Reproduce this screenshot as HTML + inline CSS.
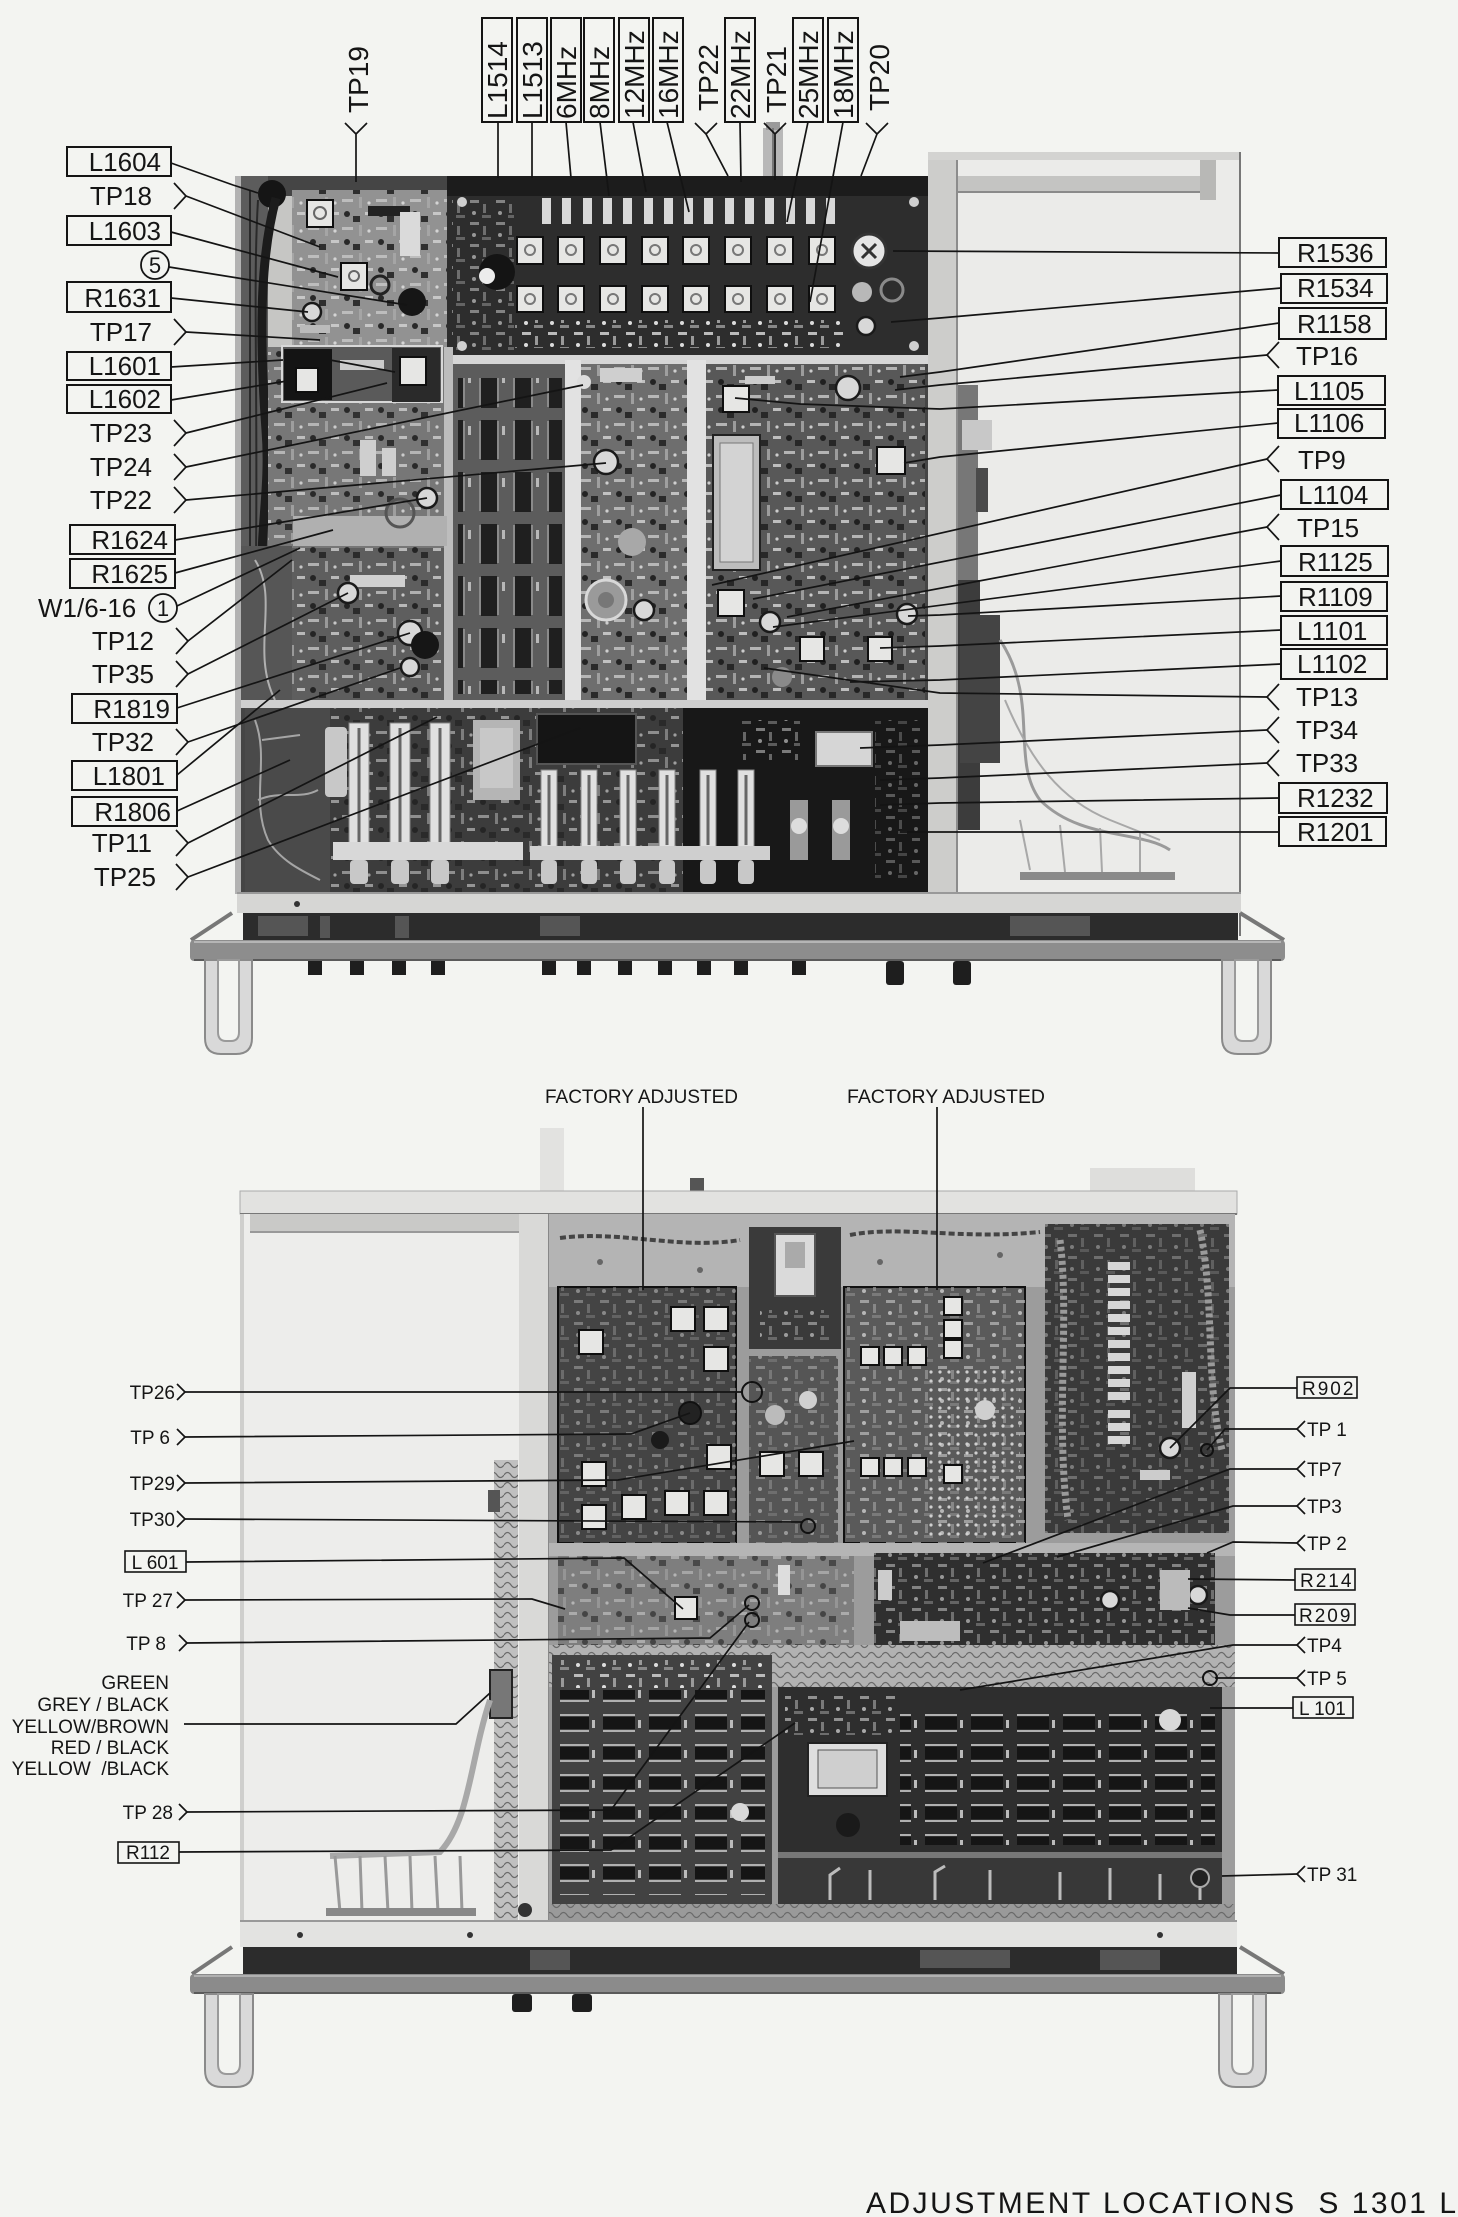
<!DOCTYPE html>
<html><head><meta charset="utf-8"><title>Adjustment Locations S 1301 L</title>
<style>
html,body{margin:0;padding:0;background:#f3f4f1;}
svg{display:block;}
text{font-family:"Liberation Sans",Arial,sans-serif;fill:#151515;}
.t26{font-size:26px;}
.t28{font-size:28px;}
.t19{font-size:19px;}
.ln{stroke:#141414;stroke-width:1.7;fill:none;}
.bx{stroke:#141414;stroke-width:2;fill:none;}
.bx2{stroke:#141414;stroke-width:1.6;fill:none;}
.sq{fill:#e6e6e4;stroke:#0f0f0f;stroke-width:2;}
.rg{fill:#d8d8d8;stroke:#1a1a1a;stroke-width:2.5;}
</style></head><body>
<svg xmlns="http://www.w3.org/2000/svg" width="1458" height="2217" viewBox="0 0 1458 2217">
<defs>
<pattern id="pA" width="34" height="28" patternUnits="userSpaceOnUse">
<rect x="2" y="3" width="11" height="3" fill="#c4c4c4"/>
<rect x="19" y="1" width="3" height="11" fill="#a8a8a8"/>
<rect x="25" y="16" width="8" height="3" fill="#d0d0d0"/>
<circle cx="7" cy="18" r="3" fill="#161616"/>
<rect x="13" y="20" width="7" height="6" fill="#1e1e1e"/>
<circle cx="29" cy="7" r="1.6" fill="#e0e0e0"/>
</pattern>
<pattern id="pB" width="26" height="22" patternUnits="userSpaceOnUse">
<rect x="2" y="2" width="9" height="3" fill="#bbbbbb"/>
<rect x="15" y="6" width="3" height="9" fill="#9a9a9a"/>
<circle cx="6" cy="15" r="2" fill="#dddddd"/>
<rect x="14" y="17" width="9" height="3" fill="#888888"/>
</pattern>
<pattern id="pIC" width="34" height="52" patternUnits="userSpaceOnUse">
<rect x="5" y="4" width="16" height="40" fill="#1f1f1f"/>
<rect x="3" y="5" width="2" height="38" fill="#8a8a8a"/>
<rect x="21" y="5" width="2" height="38" fill="#8a8a8a"/>
<rect x="26" y="10" width="3" height="9" fill="#b8b8b8"/>
</pattern>
<pattern id="pICr" width="46" height="30" patternUnits="userSpaceOnUse">
<rect x="5" y="7" width="32" height="12" fill="#151515"/>
<rect x="5" y="4" width="32" height="2" fill="#b0b0b0"/>
<rect x="5" y="20" width="32" height="2" fill="#b0b0b0"/>
<rect x="40" y="10" width="3" height="8" fill="#bbbbbb"/>
</pattern>
<pattern id="pW" width="14" height="10" patternUnits="userSpaceOnUse">
<path d="M0,5 Q3.5,0 7,5 T14,5" stroke="#6a6a6a" stroke-width="1.2" fill="none"/>
</pattern>
<pattern id="pDot" width="9" height="9" patternUnits="userSpaceOnUse">
<circle cx="4" cy="4" r="1.6" fill="#cfcfcf"/>
</pattern>
</defs>
<rect width="1458" height="2217" fill="#f3f4f1"/>

<!-- ================= TOP DIAGRAM ================= -->
<rect x="928" y="152" width="313" height="742" fill="#ebebe9"/>
<rect x="928" y="152" width="313" height="8" fill="#d3d3d1"/>
<rect x="958" y="176" width="258" height="16" fill="#c4c4c2"/>
<line x1="958" y1="192" x2="1216" y2="192" stroke="#8a8a8a" stroke-width="2"/>
<rect x="1200" y="160" width="16" height="40" fill="#b8b8b6"/>
<line x1="1240" y1="152" x2="1240" y2="936" stroke="#777" stroke-width="2"/>
<rect x="928" y="160" width="30" height="735" fill="#cdcdcb"/>
<line x1="957" y1="160" x2="957" y2="894" stroke="#8c8c8c" stroke-width="2"/>
<rect x="958" y="385" width="20" height="230" fill="#777"/>
<rect x="958" y="580" width="22" height="250" fill="#3c3c3c"/>
<rect x="960" y="615" width="40" height="148" fill="#444"/>
<rect x="976" y="468" width="12" height="44" fill="#4a4a4a"/>
<rect x="962" y="420" width="30" height="30" fill="#c8c8c8"/>
<path d="M1000,640 C1040,700 1010,760 1040,800 C1080,840 1140,830 1170,850" stroke="#9a9a9a" stroke-width="3" fill="none"/>
<path d="M1005,700 C1030,760 1060,800 1110,820 L1160,840 M1020,820 L1030,870 M1060,825 L1065,872 M1100,828 L1102,872 M1140,832 L1140,872" stroke="#a8a8a8" stroke-width="2" fill="none"/>
<rect x="1020" y="872" width="155" height="8" fill="#8a8a8a"/>
<rect x="763" y="128" width="20" height="48" fill="#b8b8b8"/>
<rect x="766" y="122" width="14" height="8" fill="#9a9a9a"/>
<line x1="773" y1="128" x2="773" y2="176" stroke="#777" stroke-width="2"/>

<rect x="235" y="176" width="693" height="718" fill="#454545"/>
<rect x="235" y="176" width="6" height="718" fill="#b2b2b2"/>
<rect x="241" y="176" width="27" height="532" fill="#5c5c5c"/>
<rect x="268" y="196" width="24" height="350" fill="#c6c6c4"/>
<circle cx="272" cy="194" r="14" fill="#151515"/>
<path d="M276,198 C262,250 258,320 266,430 C270,480 262,520 262,560" stroke="#1c1c1c" stroke-width="9" fill="none"/>
<path d="M250,190 L250,700 M258,200 C252,300 260,400 254,700" stroke="#2a2a2a" stroke-width="2" fill="none"/>

<rect x="292" y="190" width="155" height="158" fill="#929292"/>
<rect x="292" y="190" width="155" height="158" fill="url(#pA)" opacity="0.85"/>
<rect x="368" y="206" width="42" height="10" fill="#222"/>
<rect x="400" y="212" width="20" height="44" fill="#dadada"/>
<rect x="307" y="200" width="26" height="27" class="sq"/>
<circle cx="320" cy="213" r="6" fill="none" stroke="#666" stroke-width="2"/>
<rect x="341" y="263" width="26" height="27" class="sq"/>
<circle cx="354" cy="276" r="5" fill="none" stroke="#666" stroke-width="2"/>
<circle cx="412" cy="302" r="14" fill="#161616"/>
<circle cx="380" cy="285" r="9" fill="none" stroke="#222" stroke-width="3"/>
<circle cx="312" cy="312" r="9" class="rg"/>
<rect x="300" y="325" width="30" height="8" fill="#bbb"/>

<rect x="447" y="176" width="481" height="180" fill="#2d2d2d"/>
<rect x="447" y="176" width="481" height="20" fill="#1c1c1c"/>
<g fill="#d8d8d8">
<rect x="542" y="198" width="9" height="26"/><rect x="562" y="198" width="9" height="26"/><rect x="583" y="198" width="9" height="26"/><rect x="603" y="198" width="9" height="26"/><rect x="623" y="198" width="9" height="26"/><rect x="644" y="198" width="9" height="26"/><rect x="664" y="198" width="9" height="26"/><rect x="684" y="198" width="9" height="26"/><rect x="704" y="198" width="9" height="26"/><rect x="725" y="198" width="9" height="26"/><rect x="745" y="198" width="9" height="26"/><rect x="765" y="198" width="9" height="26"/><rect x="786" y="198" width="9" height="26"/><rect x="806" y="198" width="9" height="26"/><rect x="826" y="198" width="9" height="26"/>
</g>
<g>
<rect x="517" y="237" width="26" height="27" class="sq"/><rect x="558" y="237" width="26" height="27" class="sq"/><rect x="600" y="237" width="26" height="27" class="sq"/><rect x="642" y="237" width="26" height="27" class="sq"/><rect x="683" y="237" width="26" height="27" class="sq"/><rect x="725" y="237" width="26" height="27" class="sq"/><rect x="767" y="237" width="26" height="27" class="sq"/><rect x="809" y="237" width="26" height="27" class="sq"/>
<rect x="517" y="286" width="26" height="26" class="sq"/><rect x="558" y="286" width="26" height="26" class="sq"/><rect x="600" y="286" width="26" height="26" class="sq"/><rect x="642" y="286" width="26" height="26" class="sq"/><rect x="683" y="286" width="26" height="26" class="sq"/><rect x="725" y="286" width="26" height="26" class="sq"/><rect x="767" y="286" width="26" height="26" class="sq"/><rect x="809" y="286" width="26" height="26" class="sq"/>
</g>
<g fill="none" stroke="#777" stroke-width="2">
<circle cx="530" cy="250" r="5"/><circle cx="571" cy="250" r="5"/><circle cx="613" cy="250" r="5"/><circle cx="655" cy="250" r="5"/><circle cx="696" cy="250" r="5"/><circle cx="738" cy="250" r="5"/><circle cx="780" cy="250" r="5"/><circle cx="822" cy="250" r="5"/>
<circle cx="530" cy="299" r="5"/><circle cx="571" cy="299" r="5"/><circle cx="613" cy="299" r="5"/><circle cx="655" cy="299" r="5"/><circle cx="696" cy="299" r="5"/><circle cx="738" cy="299" r="5"/><circle cx="780" cy="299" r="5"/><circle cx="822" cy="299" r="5"/>
</g>
<rect x="515" y="320" width="330" height="28" fill="url(#pB)"/>
<rect x="452" y="200" width="62" height="150" fill="url(#pB)" opacity="0.6"/>
<circle cx="497" cy="272" r="18" fill="#141414"/>
<circle cx="487" cy="276" r="8" fill="#ececec"/>
<circle cx="869" cy="251" r="17" fill="#e5e5e5" stroke="#333" stroke-width="3"/>
<path d="M862,244 L876,258 M876,244 L862,258" stroke="#333" stroke-width="3"/>
<circle cx="862" cy="292" r="10" fill="#b8b8b8"/>
<circle cx="892" cy="290" r="11" fill="none" stroke="#8a8a8a" stroke-width="3"/>
<circle cx="866" cy="326" r="9" class="rg"/>
<g fill="#cfcfcf"><circle cx="462" cy="202" r="5"/><circle cx="914" cy="202" r="5"/><circle cx="462" cy="346" r="5"/><circle cx="914" cy="346" r="5"/></g>

<rect x="447" y="355" width="481" height="9" fill="#d6d6d6"/>
<rect x="444" y="347" width="9" height="355" fill="#bdbdbd"/>

<rect x="268" y="347" width="176" height="201" fill="#777"/>
<rect x="268" y="347" width="176" height="201" fill="url(#pA)" opacity="0.8"/>
<rect x="282" y="346" width="160" height="56" fill="#5a5a5a" stroke="#d8d8d8" stroke-width="2"/>
<rect x="284" y="349" width="48" height="51" fill="#141414"/>
<rect x="296" y="368" width="22" height="24" class="sq"/>
<rect x="340" y="360" width="44" height="10" fill="#ccc"/>
<rect x="392" y="348" width="48" height="54" fill="#2a2a2a"/>
<rect x="400" y="357" width="26" height="28" class="sq"/>
<rect x="293" y="516" width="154" height="30" fill="#b0b0b0"/>
<rect x="360" y="440" width="16" height="36" fill="#cfcfcf"/>
<rect x="382" y="448" width="14" height="28" fill="#cfcfcf"/>
<circle cx="427" cy="498" r="10" class="rg"/>
<circle cx="400" cy="513" r="14" fill="none" stroke="#555" stroke-width="3"/>
<rect x="241" y="546" width="51" height="162" fill="#565656"/>
<path d="M255,560 C280,600 250,650 275,700" stroke="#b0b0b0" stroke-width="2" fill="none"/>
<rect x="292" y="548" width="152" height="152" fill="#5e5e5e"/>
<rect x="292" y="548" width="152" height="152" fill="url(#pA)" opacity="0.8"/>
<rect x="350" y="575" width="55" height="12" fill="#d0d0d0"/>
<circle cx="348" cy="593" r="10" class="rg"/>
<circle cx="410" cy="633" r="12" class="rg"/>
<circle cx="410" cy="667" r="9" class="rg"/>
<circle cx="425" cy="645" r="14" fill="#161616"/>

<rect x="453" y="364" width="112" height="336" fill="#5c5c5c"/>
<rect x="458" y="378" width="104" height="316" fill="url(#pIC)"/>
<rect x="565" y="360" width="16" height="342" fill="#e2e2e2"/>
<rect x="581" y="364" width="106" height="336" fill="#6e6e6e"/>
<rect x="581" y="364" width="106" height="336" fill="url(#pA)" opacity="0.85"/>
<rect x="600" y="368" width="42" height="14" fill="#cfcfcf"/>
<circle cx="606" cy="462" r="12" class="rg"/>
<circle cx="632" cy="542" r="14" fill="#a8a8a8"/>
<circle cx="606" cy="600" r="20" fill="#9a9a9a" stroke="#d8d8d8" stroke-width="3"/>
<circle cx="606" cy="600" r="8" fill="#777"/>
<circle cx="644" cy="610" r="10" class="rg"/>
<circle cx="584" cy="382" r="7" fill="#ddd"/>
<rect x="687" y="360" width="19" height="342" fill="#e2e2e2"/>
<rect x="706" y="364" width="219" height="336" fill="#585858"/>
<rect x="706" y="364" width="219" height="336" fill="url(#pA)" opacity="0.85"/>
<rect x="713" y="435" width="47" height="135" fill="#bdbdbd" stroke="#222" stroke-width="2"/>
<rect x="720" y="443" width="33" height="119" fill="#d3d3d3" stroke="#777" stroke-width="1"/>
<rect x="723" y="386" width="26" height="26" class="sq"/>
<rect x="877" y="447" width="28" height="27" class="sq"/>
<rect x="718" y="590" width="26" height="26" class="sq"/>
<rect x="800" y="637" width="24" height="24" class="sq"/>
<rect x="868" y="637" width="24" height="24" class="sq"/>
<circle cx="848" cy="388" r="12" class="rg"/>
<circle cx="770" cy="622" r="10" class="rg"/>
<circle cx="907" cy="614" r="10" class="rg"/>
<circle cx="782" cy="677" r="10" fill="#8a8a8a"/>
<rect x="745" y="376" width="30" height="8" fill="#ccc"/>

<rect x="241" y="700" width="687" height="8" fill="#cfcfcf"/>

<rect x="245" y="708" width="438" height="185" fill="#3c3c3c"/>
<rect x="245" y="708" width="438" height="185" fill="url(#pA)" opacity="0.6"/>
<rect x="683" y="708" width="245" height="185" fill="#181818"/>
<rect x="537" y="714" width="99" height="50" fill="#151515" stroke="#555" stroke-width="2"/>
<rect x="245" y="708" width="85" height="185" fill="#4a4a4a"/>
<path d="M255,720 C270,760 250,800 268,840 C280,860 300,870 320,880 M262,740 L300,735 M258,800 C280,790 300,800 318,790" stroke="#a5a5a5" stroke-width="2" fill="none"/>
<rect x="325" y="727" width="22" height="70" rx="4" fill="#c8c8c8"/>
<rect x="473" y="720" width="47" height="80" fill="#b5b5b5"/>
<rect x="480" y="728" width="33" height="60" fill="#c8c8c8"/>
<g fill="#e0e0e0" stroke="#888" stroke-width="1">
<rect x="349" y="723" width="20" height="125"/><rect x="390" y="723" width="20" height="125"/><rect x="430" y="723" width="20" height="125"/>
<rect x="541" y="770" width="16" height="80"/><rect x="581" y="770" width="16" height="80"/><rect x="620" y="770" width="16" height="80"/><rect x="659" y="770" width="16" height="80"/><rect x="700" y="770" width="16" height="80"/><rect x="738" y="770" width="16" height="80"/>
</g>
<g stroke="#666" stroke-width="3">
<line x1="359" y1="728" x2="359" y2="842"/><line x1="400" y1="728" x2="400" y2="842"/><line x1="440" y1="728" x2="440" y2="842"/>
<line x1="549" y1="775" x2="549" y2="845"/><line x1="589" y1="775" x2="589" y2="845"/><line x1="628" y1="775" x2="628" y2="845"/><line x1="667" y1="775" x2="667" y2="845"/><line x1="708" y1="775" x2="708" y2="845"/><line x1="746" y1="775" x2="746" y2="845"/>
</g>
<rect x="333" y="842" width="190" height="18" fill="#d8d8d8"/>
<rect x="530" y="846" width="240" height="14" fill="#cfcfcf"/>
<g fill="#c8c8c8">
<rect x="350" y="860" width="18" height="24" rx="4"/><rect x="391" y="860" width="18" height="24" rx="4"/><rect x="431" y="860" width="18" height="24" rx="4"/>
<rect x="541" y="860" width="16" height="24" rx="4"/><rect x="581" y="860" width="16" height="24" rx="4"/><rect x="620" y="860" width="16" height="24" rx="4"/><rect x="659" y="860" width="16" height="24" rx="4"/><rect x="700" y="860" width="16" height="24" rx="4"/><rect x="738" y="860" width="16" height="24" rx="4"/>
</g>
<rect x="790" y="800" width="18" height="60" fill="#9a9a9a"/>
<rect x="832" y="800" width="18" height="60" fill="#9a9a9a"/>
<circle cx="799" cy="826" r="8" fill="#ddd"/>
<circle cx="841" cy="826" r="8" fill="#ddd"/>
<rect x="816" y="732" width="56" height="34" fill="#d6d6d6" stroke="#777" stroke-width="2"/>
<rect x="740" y="720" width="60" height="40" fill="url(#pB)" opacity="0.6"/>
<rect x="875" y="720" width="45" height="160" fill="url(#pB)" opacity="0.4"/>

<rect x="237" y="893" width="1004" height="20" fill="#d6d6d4"/>
<line x1="237" y1="893" x2="1241" y2="893" stroke="#999" stroke-width="2"/>
<circle cx="297" cy="904" r="3" fill="#333"/>
<rect x="243" y="913" width="995" height="27" fill="#2c2c2c"/>
<g fill="#555"><rect x="258" y="916" width="50" height="20"/><rect x="320" y="916" width="10" height="22"/><rect x="395" y="916" width="14" height="22"/><rect x="540" y="916" width="40" height="20"/><rect x="1010" y="916" width="80" height="20"/></g>
<path d="M191,940 L232,913 M1284,940 L1240,913" stroke="#777" stroke-width="4"/>
<rect x="190" y="940" width="1095" height="21" rx="4" fill="#8d8d8d"/>
<line x1="194" y1="942" x2="1281" y2="942" stroke="#b5b5b5" stroke-width="2"/>
<line x1="194" y1="960" x2="1281" y2="960" stroke="#5a5a5a" stroke-width="2"/>
<g fill="#1e1e1e">
<rect x="308" y="961" width="14" height="14"/><rect x="350" y="961" width="14" height="14"/><rect x="392" y="961" width="14" height="14"/><rect x="431" y="961" width="14" height="14"/><rect x="542" y="961" width="14" height="14"/><rect x="577" y="961" width="14" height="14"/><rect x="618" y="961" width="14" height="14"/><rect x="658" y="961" width="14" height="14"/><rect x="697" y="961" width="14" height="14"/><rect x="734" y="961" width="14" height="14"/><rect x="792" y="961" width="14" height="14"/><rect x="886" y="961" width="18" height="24" rx="3"/><rect x="953" y="961" width="18" height="24" rx="3"/>
</g>
<path d="M205,960 L205,1038 Q205,1054 221,1054 L236,1054 Q252,1054 252,1038 L252,960 Z" fill="#d9d9d9" stroke="#8a8a8a" stroke-width="2"/>
<path d="M218,960 L218,1032 Q218,1041 226,1041 L231,1041 Q239,1041 239,1032 L239,960 Z" fill="#f3f4f1" stroke="#9a9a9a" stroke-width="2"/>
<path d="M1222,960 L1222,1038 Q1222,1054 1238,1054 L1255,1054 Q1271,1054 1271,1038 L1271,960 Z" fill="#d9d9d9" stroke="#8a8a8a" stroke-width="2"/>
<path d="M1235,960 L1235,1032 Q1235,1041 1243,1041 L1250,1041 Q1258,1041 1258,1032 L1258,960 Z" fill="#f3f4f1" stroke="#9a9a9a" stroke-width="2"/>

<g class="t28">
<rect x="482" y="18" width="30" height="104" class="bx"/><text transform="translate(507,119) rotate(-90)">L1514</text>
<rect x="517" y="18" width="30" height="104" class="bx"/><text transform="translate(542,119) rotate(-90)">L1513</text>
<rect x="551" y="18" width="30" height="104" class="bx"/><text transform="translate(576,119) rotate(-90)">6MHz</text>
<rect x="584" y="18" width="30" height="104" class="bx"/><text transform="translate(609,119) rotate(-90)">8MHz</text>
<rect x="619" y="18" width="30" height="104" class="bx"/><text transform="translate(644,119) rotate(-90)">12MHz</text>
<rect x="653" y="18" width="30" height="104" class="bx"/><text transform="translate(678,119) rotate(-90)">16MHz</text>
<rect x="725" y="18" width="30" height="104" class="bx"/><text transform="translate(750,119) rotate(-90)">22MHz</text>
<rect x="793" y="18" width="30" height="104" class="bx"/><text transform="translate(818,119) rotate(-90)">25MHz</text>
<rect x="828" y="18" width="30" height="104" class="bx"/><text transform="translate(853,119) rotate(-90)">18MHz</text>
<text transform="translate(368,113) rotate(-90)">TP19</text>
<text transform="translate(718,111) rotate(-90)">TP22</text>
<text transform="translate(786,113) rotate(-90)">TP21</text>
<text transform="translate(889,111) rotate(-90)">TP20</text>
</g>
<g class="ln">
<path d="M345,123 L356,134 L367,123 M356,134 L356,182"/>
<path d="M695,123 L706,134 L717,123 M706,134 L728,176"/>
<path d="M764,123 L775,134 L786,123 M775,134 L775,180"/>
<path d="M866,123 L877,134 L888,123 M877,134 L861,176"/>
<path d="M498,122 L498,178"/>
<path d="M532,122 L532,178"/>
<path d="M566,122 L571,178"/>
<path d="M600,122 L609,196"/>
<path d="M633,122 L646,192"/>
<path d="M667,122 L689,212"/>
<path d="M740,122 L741,182"/>
<path d="M808,122 L787,222"/>
<path d="M843,122 L810,302"/>
</g>

<g class="t26">
<rect x="67" y="147" width="104" height="29" class="bx"/><text x="161" y="171" text-anchor="end">L1604</text>
<text x="152" y="205" text-anchor="end">TP18</text>
<rect x="67" y="216" width="104" height="29" class="bx"/><text x="161" y="240" text-anchor="end">L1603</text>
<rect x="67" y="282" width="104" height="30" class="bx"/><text x="161" y="307" text-anchor="end">R1631</text>
<text x="152" y="341" text-anchor="end">TP17</text>
<rect x="67" y="352" width="104" height="28" class="bx"/><text x="161" y="375" text-anchor="end">L1601</text>
<rect x="67" y="385" width="104" height="28" class="bx"/><text x="161" y="408" text-anchor="end">L1602</text>
<text x="152" y="442" text-anchor="end">TP23</text>
<text x="152" y="476" text-anchor="end">TP24</text>
<text x="152" y="509" text-anchor="end">TP22</text>
<rect x="70" y="525" width="105" height="29" class="bx"/><text x="168" y="549" text-anchor="end">R1624</text>
<rect x="70" y="559" width="105" height="29" class="bx"/><text x="168" y="583" text-anchor="end">R1625</text>
<text x="38" y="617">W1/6-16</text>
<text x="154" y="650" text-anchor="end">TP12</text>
<text x="154" y="683" text-anchor="end">TP35</text>
<rect x="72" y="694" width="105" height="29" class="bx"/><text x="170" y="718" text-anchor="end">R1819</text>
<text x="154" y="751" text-anchor="end">TP32</text>
<rect x="72" y="761" width="105" height="29" class="bx"/><text x="165" y="785" text-anchor="end">L1801</text>
<rect x="72" y="797" width="105" height="29" class="bx"/><text x="171" y="821" text-anchor="end">R1806</text>
<text x="152" y="852" text-anchor="end">TP11</text>
<text x="156" y="886" text-anchor="end">TP25</text>
</g>
<circle cx="155" cy="265" r="14" fill="none" stroke="#141414" stroke-width="1.8"/>
<text x="155" y="273" text-anchor="middle" style="font-size:22px">5</text>
<circle cx="163" cy="608" r="14" fill="none" stroke="#141414" stroke-width="1.8"/>
<text x="163" y="616" text-anchor="middle" style="font-size:22px">1</text>
<g class="ln">
<path d="M174,183 L186,196 L174,209"/>
<path d="M174,319 L186,332 L174,345"/>
<path d="M174,420 L186,433 L174,446"/>
<path d="M174,454 L186,467 L174,480"/>
<path d="M174,487 L186,500 L174,513"/>
<path d="M176,628 L188,641 L176,654"/>
<path d="M176,661 L188,674 L176,687"/>
<path d="M176,729 L188,742 L176,755"/>
<path d="M176,830 L188,843 L176,856"/>
<path d="M176,864 L188,877 L176,890"/>
<path d="M171,163 L233,185 L258,193"/>
<path d="M186,196 L320,247"/>
<path d="M171,232 L338,277"/>
<path d="M169,267 L407,305"/>
<path d="M171,298 L308,312"/>
<path d="M186,332 L320,340"/>
<path d="M171,367 L283,360 M330,360 L395,372"/>
<path d="M171,400 L287,381"/>
<path d="M186,433 L387,383"/>
<path d="M186,467 L583,385"/>
<path d="M186,500 L606,463"/>
<path d="M175,540 L427,498"/>
<path d="M175,573 L333,530"/>
<path d="M177,606 L300,548"/>
<path d="M188,641 L292,560"/>
<path d="M188,674 L348,593"/>
<path d="M177,708 L410,633"/>
<path d="M188,742 L400,668"/>
<path d="M177,775 L280,690"/>
<path d="M177,811 L290,760"/>
<path d="M188,843 L437,717"/>
<path d="M188,877 L580,728"/>
</g>

<g class="t26">
<rect x="1279" y="238" width="107" height="29" class="bx"/><text x="1297" y="262">R1536</text>
<rect x="1281" y="274" width="106" height="29" class="bx"/><text x="1297" y="297">R1534</text>
<rect x="1279" y="308" width="107" height="31" class="bx"/><text x="1297" y="333">R1158</text>
<text x="1296" y="365">TP16</text>
<rect x="1278" y="376" width="107" height="29" class="bx"/><text x="1294" y="400">L1105</text>
<rect x="1278" y="409" width="107" height="29" class="bx"/><text x="1294" y="432">L1106</text>
<text x="1298" y="469">TP9</text>
<rect x="1281" y="480" width="107" height="29" class="bx"/><text x="1298" y="504">L1104</text>
<text x="1297" y="537">TP15</text>
<rect x="1281" y="546" width="107" height="30" class="bx"/><text x="1298" y="571">R1125</text>
<rect x="1281" y="582" width="106" height="29" class="bx"/><text x="1298" y="606">R1109</text>
<rect x="1281" y="616" width="106" height="29" class="bx"/><text x="1297" y="640">L1101</text>
<rect x="1281" y="649" width="106" height="30" class="bx"/><text x="1297" y="673">L1102</text>
<text x="1296" y="706">TP13</text>
<text x="1296" y="739">TP34</text>
<text x="1296" y="772">TP33</text>
<rect x="1279" y="783" width="108" height="30" class="bx"/><text x="1297" y="807">R1232</text>
<rect x="1279" y="817" width="107" height="29" class="bx"/><text x="1297" y="841">R1201</text>
</g>
<g class="ln">
<path d="M1279,342 L1267,355 L1279,368"/>
<path d="M1279,446 L1267,459 L1279,472"/>
<path d="M1279,514 L1267,527 L1279,540"/>
<path d="M1279,684 L1267,697 L1279,710"/>
<path d="M1279,717 L1267,730 L1279,743"/>
<path d="M1279,750 L1267,763 L1279,776"/>
<path d="M1279,253 L893,251"/>
<path d="M1281,288 L940,318 L891,322"/>
<path d="M1279,323 L940,372 L900,377"/>
<path d="M1267,355 L940,385 L895,390"/>
<path d="M1278,390 L940,409 L800,404 L735,398"/>
<path d="M1278,423 L940,457 L904,463"/>
<path d="M1267,459 L712,585"/>
<path d="M1281,495 L753,599"/>
<path d="M1267,527 L787,617"/>
<path d="M1281,561 L773,627"/>
<path d="M1281,596 L940,615 L908,616"/>
<path d="M1281,630 L940,646 L880,648"/>
<path d="M1281,664 L940,680 L850,682"/>
<path d="M1267,697 L940,693 L764,668"/>
<path d="M1267,730 L940,745 L860,748"/>
<path d="M1267,763 L940,778 L880,780"/>
<path d="M1279,798 L940,803 L880,805"/>
<path d="M1279,832 L900,832"/>
</g>

<!-- ================= BOTTOM DIAGRAM ================= -->
<g class="t19">
<text x="545" y="1103" textLength="193" lengthAdjust="spacingAndGlyphs">FACTORY ADJUSTED</text>
<text x="847" y="1103" textLength="198" lengthAdjust="spacingAndGlyphs">FACTORY ADJUSTED</text>
</g>
<rect x="540" y="1128" width="24" height="63" fill="#e2e2e0"/>
<rect x="690" y="1178" width="14" height="13" fill="#555"/>
<rect x="1090" y="1168" width="105" height="23" fill="#dededc"/>
<rect x="240" y="1191" width="997" height="23" fill="#e2e2e0" stroke="#aaa" stroke-width="1"/>
<line x1="240" y1="1214" x2="1237" y2="1214" stroke="#777" stroke-width="2"/>
<rect x="240" y="1214" width="279" height="707" fill="#ededeb"/>
<rect x="250" y="1214" width="269" height="18" fill="#c9c9c7"/>
<line x1="250" y1="1232" x2="519" y2="1232" stroke="#999" stroke-width="2"/>
<rect x="240" y="1214" width="4" height="707" fill="#cfcfcd"/>
<rect x="519" y="1214" width="30" height="707" fill="#d9d9d7"/>
<line x1="549" y1="1214" x2="549" y2="1921" stroke="#888" stroke-width="2"/>
<rect x="494" y="1460" width="24" height="460" fill="#c0c0c0"/>
<rect x="494" y="1460" width="24" height="460" fill="url(#pW)"/>
<rect x="488" y="1490" width="12" height="22" fill="#555"/>
<rect x="490" y="1670" width="22" height="48" fill="#777" stroke="#222" stroke-width="2"/>
<path d="M490,1700 C470,1760 470,1820 440,1852 L330,1856" stroke="#a8a8a8" stroke-width="6" fill="none"/>
<path d="M335,1856 L340,1912 M360,1856 L362,1912 M385,1856 L388,1912 M410,1856 L412,1912 M435,1856 L438,1912 M460,1856 L462,1912" stroke="#999" stroke-width="3" fill="none"/>
<rect x="326" y="1908" width="150" height="8" fill="#888"/>
<circle cx="525" cy="1910" r="7" fill="#333"/>
<rect x="549" y="1214" width="686" height="707" fill="#9c9c9c"/>
<rect x="549" y="1214" width="686" height="73" fill="#b4b4b4"/>
<path d="M560,1238 C620,1230 680,1250 740,1240 M850,1235 C900,1225 960,1240 1040,1232" stroke="#444" stroke-width="4" stroke-dasharray="6 3" fill="none"/>
<g fill="#666"><circle cx="600" cy="1262" r="3"/><circle cx="700" cy="1270" r="3"/><circle cx="880" cy="1262" r="3"/><circle cx="1000" cy="1255" r="3"/></g>
<rect x="558" y="1287" width="178" height="256" fill="#444" stroke="#111" stroke-width="2"/>
<rect x="558" y="1287" width="178" height="256" fill="url(#pB)" opacity="0.45"/>
<g>
<rect x="579" y="1330" width="24" height="24" class="sq"/><rect x="671" y="1307" width="24" height="24" class="sq"/><rect x="704" y="1307" width="24" height="24" class="sq"/><rect x="704" y="1347" width="24" height="24" class="sq"/><rect x="707" y="1445" width="24" height="24" class="sq"/><rect x="582" y="1462" width="24" height="24" class="sq"/><rect x="582" y="1505" width="24" height="24" class="sq"/><rect x="622" y="1495" width="24" height="24" class="sq"/><rect x="665" y="1491" width="24" height="24" class="sq"/><rect x="704" y="1491" width="24" height="24" class="sq"/>
</g>
<circle cx="690" cy="1413" r="11" fill="#222" stroke="#111" stroke-width="2"/>
<circle cx="660" cy="1440" r="9" fill="#1a1a1a"/>
<rect x="749" y="1227" width="92" height="122" fill="#3a3a3a"/>
<rect x="775" y="1234" width="40" height="62" fill="#dadada" stroke="#555" stroke-width="2"/>
<rect x="785" y="1242" width="20" height="26" fill="#aaa"/>
<rect x="760" y="1310" width="70" height="30" fill="url(#pB)" opacity="0.6"/>
<rect x="749" y="1356" width="89" height="187" fill="#555"/>
<rect x="749" y="1356" width="89" height="187" fill="url(#pB)" opacity="0.5"/>
<rect x="760" y="1452" width="24" height="24" class="sq"/>
<rect x="799" y="1452" width="24" height="24" class="sq"/>
<circle cx="775" cy="1415" r="10" fill="#bbb"/>
<circle cx="808" cy="1400" r="9" fill="#d0d0d0"/>
<rect x="844" y="1287" width="181" height="256" fill="#5a5a5a" stroke="#111" stroke-width="2"/>
<rect x="844" y="1287" width="181" height="256" fill="url(#pB)" opacity="0.7"/>
<rect x="925" y="1370" width="95" height="170" fill="url(#pDot)"/>
<g>
<rect x="861" y="1347" width="18" height="18" class="sq"/><rect x="884" y="1347" width="18" height="18" class="sq"/><rect x="908" y="1347" width="18" height="18" class="sq"/><rect x="944" y="1297" width="18" height="18" class="sq"/><rect x="944" y="1320" width="18" height="18" class="sq"/><rect x="944" y="1340" width="18" height="18" class="sq"/><rect x="861" y="1458" width="18" height="18" class="sq"/><rect x="884" y="1458" width="18" height="18" class="sq"/><rect x="908" y="1458" width="18" height="18" class="sq"/><rect x="944" y="1465" width="18" height="18" class="sq"/>
</g>
<circle cx="985" cy="1410" r="10" fill="#cfcfcf"/>
<rect x="1045" y="1224" width="184" height="309" fill="#3a3a3a"/>
<rect x="1045" y="1224" width="184" height="309" fill="url(#pB)" opacity="0.4"/>
<path d="M1060,1240 C1070,1320 1055,1420 1068,1520 M1200,1230 C1215,1300 1205,1380 1222,1450" stroke="#9a9a9a" stroke-width="7" stroke-dasharray="4 3" fill="none"/>
<g fill="#d6d6d6">
<rect x="1108" y="1262" width="22" height="8"/><rect x="1108" y="1275" width="22" height="8"/><rect x="1108" y="1288" width="22" height="8"/><rect x="1108" y="1301" width="22" height="8"/><rect x="1108" y="1314" width="22" height="8"/><rect x="1108" y="1327" width="22" height="8"/><rect x="1108" y="1340" width="22" height="8"/><rect x="1108" y="1353" width="22" height="8"/><rect x="1108" y="1366" width="22" height="8"/><rect x="1108" y="1379" width="22" height="8"/><rect x="1108" y="1392" width="22" height="8"/><rect x="1108" y="1410" width="22" height="8"/><rect x="1108" y="1423" width="22" height="8"/><rect x="1108" y="1436" width="22" height="8"/>
</g>
<rect x="1182" y="1372" width="14" height="56" fill="#d0d0d0"/>
<circle cx="1170" cy="1448" r="10" class="rg"/>
<circle cx="1207" cy="1450" r="6" fill="none" stroke="#111" stroke-width="2"/>
<rect x="1140" y="1470" width="30" height="10" fill="#ccc"/>
<rect x="549" y="1543" width="686" height="13" fill="#b5b5b5"/>
<rect x="558" y="1556" width="296" height="89" fill="#7e7e7e"/>
<rect x="558" y="1556" width="296" height="89" fill="url(#pA)" opacity="0.55"/>
<rect x="675" y="1597" width="22" height="22" class="sq"/>
<circle cx="752" cy="1603" r="7" fill="none" stroke="#111" stroke-width="2"/>
<circle cx="752" cy="1620" r="7" fill="none" stroke="#111" stroke-width="2"/>
<rect x="778" y="1565" width="12" height="30" fill="#ddd"/>
<rect x="874" y="1553" width="341" height="92" fill="#2f2f2f"/>
<rect x="874" y="1553" width="341" height="92" fill="url(#pB)" opacity="0.6"/>
<rect x="900" y="1621" width="60" height="20" fill="#bdbdbd"/>
<rect x="878" y="1570" width="14" height="30" fill="#ccc"/>
<circle cx="1110" cy="1600" r="9" class="rg"/>
<circle cx="1198" cy="1595" r="9" class="rg"/>
<rect x="1160" y="1570" width="30" height="40" fill="#bbb"/>
<rect x="549" y="1645" width="686" height="42" fill="#b2b2b2"/>
<rect x="549" y="1645" width="686" height="42" fill="url(#pW)"/>
<rect x="552" y="1655" width="220" height="249" fill="#424242"/>
<rect x="560" y="1690" width="205" height="205" fill="url(#pICr)"/>
<rect x="560" y="1660" width="205" height="28" fill="url(#pB)"/>
<circle cx="740" cy="1812" r="9" fill="#d8d8d8"/>
<rect x="778" y="1687" width="444" height="165" fill="#2e2e2e"/>
<rect x="900" y="1705" width="315" height="140" fill="url(#pICr)"/>
<rect x="785" y="1695" width="110" height="40" fill="url(#pB)" opacity="0.7"/>
<rect x="808" y="1743" width="79" height="53" fill="#dedede" stroke="#222" stroke-width="2"/>
<rect x="818" y="1750" width="59" height="38" fill="#cfcfcf" stroke="#555" stroke-width="1"/>
<circle cx="848" cy="1825" r="12" fill="#1a1a1a"/>
<circle cx="1170" cy="1720" r="11" fill="#d8d8d8"/>
<rect x="778" y="1852" width="444" height="6" fill="#777"/>
<rect x="778" y="1858" width="444" height="46" fill="#383838"/>
<g stroke="#bcbcbc" stroke-width="3" fill="none">
<path d="M830,1900 L830,1875 L840,1868 M870,1900 L870,1870 M935,1900 L935,1872 L945,1866 M990,1900 L990,1870 M1060,1900 L1060,1872 M1110,1900 L1110,1868 M1160,1900 L1160,1874 M1200,1900 L1200,1870"/>
</g>
<circle cx="1200" cy="1878" r="9" fill="#222" stroke="#aaa" stroke-width="2"/>
<rect x="549" y="1904" width="686" height="17" fill="#9a9a9a"/>
<rect x="549" y="1904" width="686" height="17" fill="url(#pW)"/>
<rect x="240" y="1921" width="997" height="26" fill="#e3e3e1"/>
<line x1="240" y1="1921" x2="1237" y2="1921" stroke="#999" stroke-width="2"/>
<circle cx="300" cy="1935" r="3" fill="#333"/>
<circle cx="470" cy="1935" r="3" fill="#333"/>
<circle cx="1160" cy="1935" r="3" fill="#333"/>
<rect x="243" y="1947" width="994" height="27" fill="#2c2c2c"/>
<g fill="#555"><rect x="530" y="1950" width="40" height="20"/><rect x="920" y="1950" width="90" height="18"/><rect x="1100" y="1950" width="60" height="20"/></g>
<path d="M192,1974 L232,1947 M1284,1974 L1240,1947" stroke="#777" stroke-width="4"/>
<rect x="190" y="1974" width="1095" height="20" rx="4" fill="#8b8b8b"/>
<line x1="194" y1="1976" x2="1281" y2="1976" stroke="#b0b0b0" stroke-width="2"/>
<line x1="194" y1="1993" x2="1281" y2="1993" stroke="#5a5a5a" stroke-width="2"/>
<rect x="512" y="1994" width="20" height="18" rx="3" fill="#1e1e1e"/>
<rect x="572" y="1994" width="20" height="18" rx="3" fill="#1e1e1e"/>
<path d="M205,1994 L205,2070 Q205,2087 222,2087 L236,2087 Q253,2087 253,2070 L253,1994 Z" fill="#d9d9d9" stroke="#8a8a8a" stroke-width="2"/>
<path d="M218,1994 L218,2064 Q218,2074 227,2074 L231,2074 Q240,2074 240,2064 L240,1994 Z" fill="#f3f4f1" stroke="#9a9a9a" stroke-width="2"/>
<path d="M1219,1994 L1219,2070 Q1219,2087 1236,2087 L1249,2087 Q1266,2087 1266,2070 L1266,1994 Z" fill="#d9d9d9" stroke="#8a8a8a" stroke-width="2"/>
<path d="M1232,1994 L1232,2064 Q1232,2074 1241,2074 L1244,2074 Q1253,2074 1253,2064 L1253,1994 Z" fill="#f3f4f1" stroke="#9a9a9a" stroke-width="2"/>

<g class="ln">
<path d="M643,1107 L643,1290"/>
<path d="M937,1107 L937,1290"/>
</g>

<g class="t19">
<text x="175" y="1399" text-anchor="end">TP26</text>
<text x="170" y="1444" text-anchor="end">TP 6</text>
<text x="175" y="1490" text-anchor="end">TP29</text>
<text x="175" y="1526" text-anchor="end">TP30</text>
<rect x="125" y="1551" width="61" height="21" class="bx2"/><text x="155" y="1569" text-anchor="middle">L 601</text>
<text x="173" y="1607" text-anchor="end">TP 27</text>
<text x="166" y="1650" text-anchor="end">TP 8</text>
<text x="169" y="1689" text-anchor="end">GREEN</text>
<text x="169" y="1711" text-anchor="end">GREY / BLACK</text>
<text x="169" y="1733" text-anchor="end">YELLOW/BROWN</text>
<text x="169" y="1754" text-anchor="end">RED / BLACK</text>
<text x="169" y="1775" text-anchor="end" xml:space="preserve">YELLOW  /BLACK</text>
<text x="173" y="1819" text-anchor="end">TP 28</text>
<rect x="118" y="1842" width="61" height="21" class="bx2"/><text x="148" y="1859" text-anchor="middle">R112</text>
</g>
<g class="ln">
<path d="M177,1384 L185,1392 L177,1400"/>
<path d="M177,1429 L185,1437 L177,1445"/>
<path d="M177,1475 L185,1483 L177,1491"/>
<path d="M177,1511 L185,1519 L177,1527"/>
<path d="M177,1592 L185,1600 L177,1608"/>
<path d="M179,1635 L187,1643 L179,1651"/>
<path d="M179,1804 L187,1812 L179,1820"/>
<path d="M185,1392 L742,1392"/>
<path d="M185,1437 L631,1434 L690,1413"/>
<path d="M185,1483 L618,1480 L854,1441"/>
<path d="M185,1519 L802,1522"/>
<path d="M186,1562 L624,1558 L683,1609"/>
<path d="M185,1600 L532,1599 L565,1609"/>
<path d="M187,1643 L710,1638 L749,1605"/>
<path d="M184,1724 L456,1724 L490,1693"/>
<path d="M187,1812 L611,1810 L749,1622"/>
<path d="M179,1852 L611,1850 L795,1723"/>
</g>
<circle cx="752" cy="1392" r="10" fill="none" stroke="#111" stroke-width="2"/>
<circle cx="808" cy="1526" r="7" fill="none" stroke="#111" stroke-width="2"/>

<g class="t19">
<rect x="1297" y="1377" width="60" height="21" class="bx2"/><text x="1302" y="1395" letter-spacing="2">R902</text>
<text x="1307" y="1436" xml:space="preserve">TP 1</text>
<text x="1307" y="1476">TP7</text>
<text x="1307" y="1513">TP3</text>
<text x="1307" y="1550" xml:space="preserve">TP 2</text>
<rect x="1295" y="1569" width="60" height="21" class="bx2"/><text x="1300" y="1587" letter-spacing="2">R214</text>
<rect x="1295" y="1604" width="60" height="21" class="bx2"/><text x="1299" y="1622" letter-spacing="2">R209</text>
<text x="1307" y="1652">TP4</text>
<text x="1307" y="1685" xml:space="preserve">TP 5</text>
<rect x="1293" y="1697" width="60" height="21" class="bx2"/><text x="1299" y="1715" xml:space="preserve">L 101</text>
<text x="1307" y="1881" xml:space="preserve">TP 31</text>
</g>
<g class="ln">
<path d="M1305,1421 L1297,1429 L1305,1437"/>
<path d="M1305,1461 L1297,1469 L1305,1477"/>
<path d="M1305,1498 L1297,1506 L1305,1514"/>
<path d="M1305,1535 L1297,1543 L1305,1551"/>
<path d="M1305,1637 L1297,1645 L1305,1653"/>
<path d="M1305,1670 L1297,1678 L1305,1686"/>
<path d="M1305,1866 L1297,1874 L1305,1882"/>
<path d="M1297,1388 L1230,1388 L1170,1448"/>
<path d="M1297,1429 L1225,1429 L1207,1450"/>
<path d="M1297,1469 L1230,1469 L983,1563"/>
<path d="M1297,1506 L1233,1506 L1057,1557"/>
<path d="M1297,1543 L1233,1542 L1207,1553"/>
<path d="M1295,1580 L1188,1579"/>
<path d="M1295,1615 L1230,1615 L1188,1608"/>
<path d="M1297,1645 L1233,1645 L960,1690"/>
<path d="M1297,1678 L1215,1678"/>
<path d="M1293,1708 L1210,1708"/>
<path d="M1297,1874 L1222,1876"/>
</g>
<circle cx="1210" cy="1678" r="7" fill="none" stroke="#111" stroke-width="2"/>

<text x="866" y="2213" style="font-size:30px" textLength="590" lengthAdjust="spacing" xml:space="preserve">ADJUSTMENT LOCATIONS  S 1301 L</text>
</svg>
</body></html>
